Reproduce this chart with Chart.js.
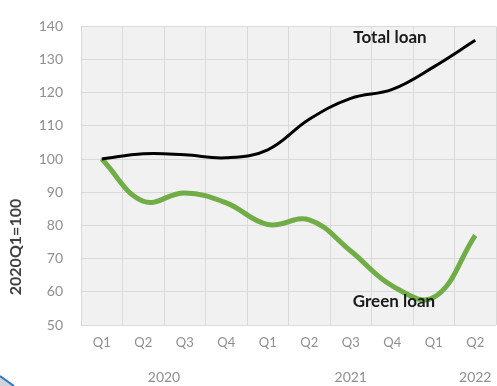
<!DOCTYPE html>
<html>
<head>
<meta charset="utf-8">
<script src="https://cdn.jsdelivr.net/npm/chart.js@4/dist/chart.umd.min.js"></script>
<style>
  html, body { margin: 0; padding: 0; background: #fff; }
  #wrap { width: 497px; height: 386px; }
</style>
</head>
<body>
<div id="wrap"><canvas id="loanChart" width="497" height="386"></canvas></div>
<script>
// Data (index, 2020Q1 = 100)
const quarters = ['Q1', 'Q2', 'Q3', 'Q4', 'Q1', 'Q2', 'Q3', 'Q4', 'Q1', 'Q2'];
const totalLoan = [100, 101.6, 101.3, 100.4, 102.8, 112, 118.3, 121, 127.8, 135.8];
const greenLoan = [100, 87.3, 89.8, 86.8, 80.3, 81.7, 72.3, 61.8, 58.3, 77];
const years = ['2020', '2021', '2022'];
const yearAt = [1.5, 6, 9];   // category index each year label sits under
const yTicks = [50, 60, 70, 80, 90, 100, 110, 120, 130, 140];

const FONT = 'Lato, "Open Sans", sans-serif';
const GREY = '#8f8f8f';

// plot background
const plotBg = {
  id: 'plotBg',
  beforeDraw(chart) {
    const a = chart.chartArea, ctx = chart.ctx;
    ctx.save();
    ctx.fillStyle = '#f1f1f1';
    ctx.fillRect(a.left, a.top, a.right - a.left, a.bottom - a.top);
    ctx.restore();
  }
};

// year row, axis title, series labels
const extraText = {
  id: 'extraText',
  afterDraw(chart) {
    const ctx = chart.ctx, x = chart.scales.x;
    ctx.save();
    ctx.textAlign = 'center';
    ctx.textBaseline = 'middle';

    ctx.fillStyle = GREY;
    ctx.font = '14px ' + FONT;
    years.forEach((yr, i) => {
      const k = yearAt[i];
      const px = (x.getPixelForValue(Math.floor(k)) + x.getPixelForValue(Math.ceil(k))) / 2;
      ctx.fillText(yr, px, 377);
    });

    // series labels
    ctx.fillStyle = '#1a1a1a';
    ctx.font = 'bold 17px ' + FONT;
    ctx.fillText('Total loan', 390, 38);
    ctx.fillText('Green loan', 394, 302);

    // y axis title
    ctx.fillStyle = '#404040';
    ctx.font = 'bold 16px ' + FONT;
    ctx.translate(16, 247);
    ctx.rotate(-Math.PI / 2);
    ctx.fillText('2020Q1=100', 0, 0);
    ctx.restore();

    // corner of a slide shape, bottom left
    ctx.save();
    ctx.fillStyle = '#d0d4da';
    ctx.beginPath();
    ctx.moveTo(0, 376);
    ctx.lineTo(14, 386);
    ctx.lineTo(0, 386);
    ctx.closePath();
    ctx.fill();
    ctx.strokeStyle = '#2e75c8';
    ctx.lineWidth = 2;
    ctx.beginPath();
    ctx.moveTo(0, 376);
    ctx.lineTo(14, 386);
    ctx.stroke();
    ctx.restore();
  }
};

new Chart(document.getElementById('loanChart'), {
  type: 'line',
  data: {
    labels: quarters,
    datasets: [
      {
        label: 'Total loan',
        data: totalLoan,
        borderColor: '#000000',
        borderWidth: 3,
        pointRadius: 0,
        tension: 0.4,
        fill: false
      },
      {
        label: 'Green loan',
        data: greenLoan,
        borderColor: '#70ad47',
        borderWidth: 5,
        pointRadius: 0,
        tension: 0.4,
        fill: false
      }
    ]
  },
  options: {
    responsive: false,
    animation: false,
    layout: { padding: { top: 14, right: 1, left: 0, bottom: 0 } },
    plugins: {
      legend: { display: false },
      tooltip: { enabled: false }
    },
    scales: {
      x: {
        offset: true,
        grid: { offset: true, color: '#d9d9d9', drawTicks: false },
        border: { display: false },
        ticks: { color: GREY, font: { family: FONT, size: 13 }, padding: 10, maxRotation: 0 },
        afterFit: s => { s.height = 61; }
      },
      y: {
        min: 50,
        max: 140,
        afterBuildTicks: s => { s.ticks = yTicks.map(v => ({ value: v })); },
        grid: { color: '#d9d9d9', drawTicks: false },
        border: { display: false },
        ticks: { color: GREY, font: { family: FONT, size: 14 }, padding: 18 },
        afterFit: s => { s.width = 81; }
      }
    }
  },
  plugins: [plotBg, extraText]
});
</script>
</body>
</html>
